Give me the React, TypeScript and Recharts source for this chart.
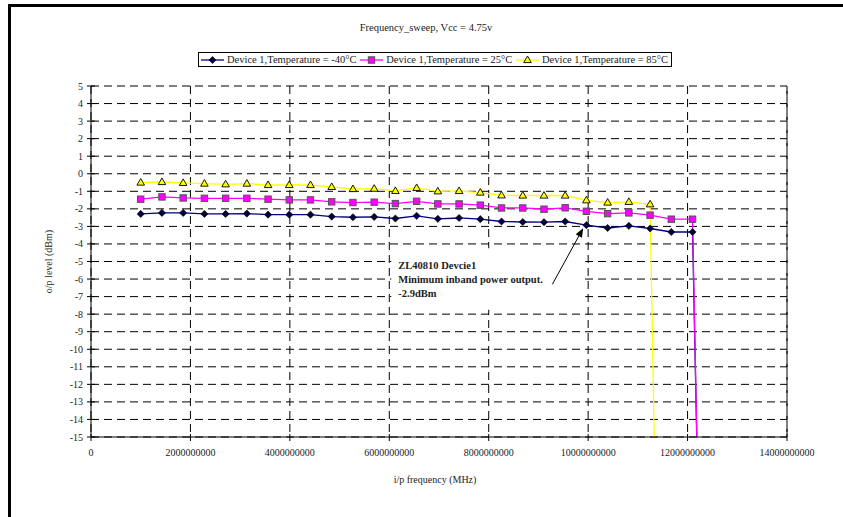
import React from "react";
import {
  CartesianGrid,
  Line,
  LineChart,
  ReferenceArea,
  ReferenceLine,
  XAxis,
  YAxis,
} from "recharts";

// Frequency sweep, Vcc = 4.75v — three temperature runs of Device 1.
// Points past the cut-off fall far below -15 dBm and are clipped by the axis.
const FREQ_HZ = [
  1.0e9, 1.427e9, 1.854e9, 2.281e9, 2.708e9, 3.135e9, 3.562e9, 3.988e9, 4.415e9,
  4.842e9, 5.269e9, 5.696e9, 6.123e9, 6.55e9, 6.977e9, 7.404e9, 7.831e9, 8.258e9,
  8.685e9, 9.112e9, 9.538e9, 9.965e9, 10.392e9, 10.819e9, 11.246e9, 11.673e9,
  12.1e9, 12.527e9,
];
const TEMP_M40 = [
  -2.29, -2.23, -2.23, -2.29, -2.29, -2.27, -2.33, -2.33, -2.33, -2.44, -2.48, -2.46,
  -2.55, -2.4, -2.57, -2.52, -2.59, -2.72, -2.75, -2.76, -2.72, -2.93, -3.09, -2.97,
  -3.12, -3.32, -3.32, -62,
];
const TEMP_25 = [
  -1.45, -1.32, -1.38, -1.4, -1.4, -1.4, -1.45, -1.49, -1.49, -1.6, -1.64, -1.62,
  -1.7, -1.57, -1.72, -1.72, -1.79, -1.95, -1.95, -2.02, -1.94, -2.14, -2.27, -2.23,
  -2.36, -2.59, -2.59, -64,
];
const TEMP_85 = [
  -0.5, -0.47, -0.52, -0.56, -0.6, -0.56, -0.64, -0.64, -0.64, -0.75, -0.87, -0.85,
  -0.98, -0.81, -1.0, -0.98, -1.07, -1.23, -1.24, -1.24, -1.24, -1.51, -1.64, -1.6,
  -1.74, -70, null, null,
];
const X_TICKS = [0, 2e9, 4e9, 6e9, 8e9, 10e9, 12e9, 14e9];
const Y_TICKS = [5, 4, 3, 2, 1, 0, -1, -2, -3, -4, -5, -6, -7, -8, -9, -10, -11, -12, -13, -14, -15];

const SERIES = [
  { key: "m40", name: "Device 1,Temperature = -40°C", color: "#000080", marker: "diamond" },
  { key: "p25", name: "Device 1,Temperature = 25°C", color: "#FF00FF", marker: "square" },
  { key: "p85", name: "Device 1,Temperature = 85°C", color: "#FFFF00", marker: "triangle" },
];

// annotation: text box and arrow, in data units
const NOTE_LINES = ["ZL40810 Devcie1", "Minimum inband power output.", "-2.9dBm"];
const NOTE_BOX = { x1: 6.04e9, x2: 9.94e9, y1: -4.25, y2: -7.75 };
const ARROW_FROM = { x: 9.28e9, y: -6.3 };
const ARROW_TO = { x: 9.9e9, y: -3.1 };

const data = FREQ_HZ.map((f, i) => ({
  f,
  m40: TEMP_M40[i],
  p25: TEMP_25[i],
  p85: TEMP_85[i],
}));

const FONT = '"Liberation Serif", "DejaVu Serif", serif';

function Marker({ kind, cx, cy }: { kind: string; cx: number; cy: number }) {
  if (kind === "diamond") {
    return (
      <polygon
        points={`${cx},${cy - 3.6} ${cx + 3.6},${cy} ${cx},${cy + 3.6} ${cx - 3.6},${cy}`}
        fill="#000040"
        stroke="#000000"
        strokeWidth={0.6}
      />
    );
  }
  if (kind === "square") {
    return (
      <rect x={cx - 3.2} y={cy - 3.2} width={6.4} height={6.4} fill="#FF00FF" stroke="#555" strokeWidth={1} />
    );
  }
  return (
    <polygon
      points={`${cx},${cy - 4} ${cx + 3.8},${cy + 2.6} ${cx - 3.8},${cy + 2.6}`}
      fill="#FFFF00"
      stroke="#000"
      strokeWidth={0.9}
    />
  );
}

function makeDot(kind: string) {
  return (p: any) => {
    if (p.cx == null || p.cy == null || p.value == null) return <g key={p.key} />;
    return (
      <g key={p.key}>
        <Marker kind={kind} cx={p.cx} cy={p.cy} />
      </g>
    );
  };
}

// ticks that cross the axis line, as in the original
function YTick(p: any) {
  const { x, y, payload } = p;
  const axisX = x + 8;
  return (
    <g>
      <line x1={axisX - 4} x2={axisX + 4} y1={y} y2={y} stroke="#000" />
      <text x={x} y={y} dy="0.35em" textAnchor="end" style={{ fontFamily: FONT }} fontSize={10} fill="#222">
        {payload.value}
      </text>
    </g>
  );
}

function XTick(p: any) {
  const { x, y, payload } = p;
  const axisY = y - 12;
  return (
    <g>
      <line x1={x} x2={x} y1={axisY - 3} y2={axisY + 4} stroke="#000" />
      <text x={x} y={y} dy="0.71em" textAnchor="middle" style={{ fontFamily: FONT }} fontSize={10} fill="#222">
        {String(payload.value)}
      </text>
    </g>
  );
}

function Arrow(p: any) {
  const { x1, y1, x2, y2 } = p;
  const a = Math.atan2(y2 - y1, x2 - x1);
  const len = 9;
  const w = 3.5;
  const bx = x2 - len * Math.cos(a);
  const by = y2 - len * Math.sin(a);
  const nx = -Math.sin(a) * w;
  const ny = Math.cos(a) * w;
  return (
    <g>
      <line x1={x1} y1={y1} x2={bx} y2={by} stroke="#000" strokeWidth={1} />
      <polygon points={`${x2},${y2} ${bx + nx},${by + ny} ${bx - nx},${by - ny}`} fill="#000" />
    </g>
  );
}

function NoteText(lp: any) {
  const vb = lp.viewBox;
  if (!vb) return null;
  return (
    <text
      x={vb.x + 7}
      y={vb.y + 20.5}
      style={{ fontFamily: FONT }}
      fontSize={10.5}
      fontWeight="bold"
      fill="#222"
    >
      {NOTE_LINES.map((t, i) => (
        <tspan key={i} x={vb.x + 7} dy={i === 0 ? 0 : 14}>
          {t}
        </tspan>
      ))}
    </text>
  );
}

function LegendBox() {
  return (
    <div
      style={{
        position: "absolute",
        top: 52,
        left: 198,
        width: 474,
        display: "flex",
        alignItems: "center",
        justifyContent: "space-between",
        border: "1px solid #000",
        height: 15,
        padding: "0 3px 0 2px",
        fontFamily: FONT,
        fontSize: 10.5,
        color: "#222",
        whiteSpace: "nowrap",
        boxSizing: "border-box",
      }}
    >
      {SERIES.map((s) => (
        <div key={s.key} style={{ display: "flex", alignItems: "center" }}>
          <svg width={23} height={10} style={{ marginRight: 3 }}>
            <line x1={0} x2={23} y1={5} y2={5} stroke={s.color} strokeWidth={1.3} />
            <Marker kind={s.marker} cx={11.5} cy={5} />
          </svg>
          <span>{s.name}</span>
        </div>
      ))}
    </div>
  );
}

export default function App() {
  return (
    <div style={{ position: "relative", width: 843, height: 517, overflow: "hidden", background: "#fff" }}>
      <style>{"body{margin:0}"}</style>
      <div
        style={{
          position: "absolute",
          left: 8,
          top: 4,
          width: 900,
          height: 600,
          borderTop: "3px solid #000",
          borderLeft: "3px solid #000",
        }}
      />
      <div
        style={{
          position: "absolute",
          top: 22,
          left: 0,
          width: 852,
          textAlign: "center",
          fontFamily: FONT,
          fontSize: 10.5,
          color: "#222",
        }}
      >
        Frequency_sweep, Vcc = 4.75v
      </div>
      <LegendBox />
      <LineChart
        width={843}
        height={517}
        data={data}
        margin={{ top: 86, right: 56, left: 0, bottom: 50 }}
        style={{ position: "absolute", left: 0, top: 0 }}
      >
        <CartesianGrid stroke="#000" strokeDasharray="8 5" horizontalValues={Y_TICKS} verticalValues={X_TICKS} />
        <ReferenceLine x={14e9} stroke="#000" strokeDasharray="8 5" />
        <XAxis
          dataKey="f"
          type="number"
          domain={[0, 14e9]}
          ticks={X_TICKS}
          allowDataOverflow
          height={30}
          tickSize={4}
          tickMargin={8}
          tickLine={false}
          axisLine={{ stroke: "#000" }}
          tick={<XTick />}
          interval={0}
          label={{
            content: (lp: any) => (
              <text
                x={lp.viewBox.x + lp.viewBox.width / 2 - 4}
                y={lp.viewBox.y + 46}
                textAnchor="middle"
                style={{ fontFamily: FONT }}
                fontSize={10}
                fill="#222"
              >
                i/p frequency (MHz)
              </text>
            ),
          }}
        />
        <YAxis
          type="number"
          domain={[-15, 5]}
          ticks={Y_TICKS}
          allowDataOverflow
          width={91}
          tickSize={4}
          tickMargin={4}
          tickLine={false}
          axisLine={{ stroke: "#000" }}
          tick={<YTick />}
          interval={0}
          label={{
            content: (lp: any) => {
              const cx = 52;
              const cy = lp.viewBox.y + lp.viewBox.height / 2;
              return (
                <text
                  x={cx}
                  y={cy}
                  transform={`rotate(-90, ${cx}, ${cy})`}
                  textAnchor="middle"
                  style={{ fontFamily: FONT }}
                  fontSize={10}
                  fill="#222"
                >
                  o/p level (dBm)
                </text>
              );
            },
          }}
        />
        {SERIES.map((s) => (
          <Line
            key={s.key}
            type="linear"
            dataKey={s.key}
            name={s.name}
            stroke={s.color}
            strokeWidth={1.3}
            dot={makeDot(s.marker)}
            activeDot={false}
            isAnimationActive={false}
          />
        ))}
        <ReferenceArea
          x1={NOTE_BOX.x1}
          x2={NOTE_BOX.x2}
          y1={NOTE_BOX.y1}
          y2={NOTE_BOX.y2}
          fill="#fff"
          fillOpacity={1}
          stroke="none"
          label={<NoteText />}
        />
        <ReferenceLine
          segment={[ARROW_FROM, ARROW_TO]}
          stroke="#000"
          shape={(p: any) => <Arrow {...p} />}
        />
      </LineChart>
    </div>
  );
}
